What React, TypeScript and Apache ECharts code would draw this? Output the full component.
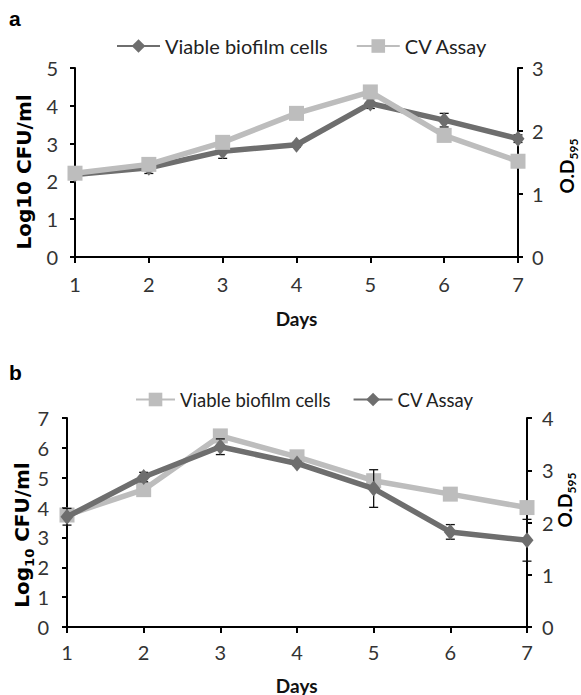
import React, { useEffect, useRef } from "react";
import * as echarts from "echarts";

// ---------- data ----------
const days = ["1", "2", "3", "4", "5", "6", "7"];

// Panel a
const aViable = [2.18, 2.36, 2.8, 2.97, 4.06, 3.62, 3.13]; // Log10 CFU/ml (left axis)
const aViableErr = [0.08, 0.15, 0.19, 0.06, 0.13, 0.18, 0.1];
const aCv = [1.33, 1.47, 1.82, 2.28, 2.62, 1.93, 1.52]; // O.D595 (right axis)

// Panel b
const bViable = [3.75, 4.6, 6.4, 5.7, 4.9, 4.45, 4.0]; // Log10 CFU/ml (left axis)
const bCv = [2.11, 2.87, 3.45, 3.13, 2.65, 1.82, 1.66]; // O.D595 (right axis)
const bCvErr = [0.16, 0.09, 0.15, 0.04, 0.36, 0.14, 0.4];

const aLeftRange = [0, 5];
const aRightRange = [0, 3];
const bLeftRange = [0, 7];
const bRightRange = [0, 4];

const DARK = "#6e6e6e";
const LIGHT = "#bdbdbd";
const CAL = "Lato, 'Noto Sans', sans-serif";
const VER = "'DejaVu Sans', Verdana, sans-serif";

function errorSeries(vals: number[], errs: number[], yAxisIndex: number, z: number) {
  return {
    type: "custom",
    yAxisIndex,
    silent: true,
    z,
    data: vals.map((v, i) => [i, v - errs[i], v + errs[i]]),
    encode: { x: 0, y: [1, 2] },
    renderItem: (params: any, api: any) => {
      const x = api.value(0);
      const lo = api.coord([x, api.value(1)]);
      const hi = api.coord([x, api.value(2)]);
      const w = 4.5;
      const style = { stroke: "#111", lineWidth: 1.3 };
      return {
        type: "group",
        children: [
          { type: "line", shape: { x1: lo[0], y1: lo[1], x2: hi[0], y2: hi[1] }, style },
          { type: "line", shape: { x1: lo[0] - w, y1: lo[1], x2: lo[0] + w, y2: lo[1] }, style },
          { type: "line", shape: { x1: hi[0] - w, y1: hi[1], x2: hi[0] + w, y2: hi[1] }, style },
        ],
      };
    },
  };
}

function lineSeries(name: string, data: number[], yAxisIndex: number, dark: boolean, z: number) {
  const color = dark ? DARK : LIGHT;
  return {
    type: "line",
    name,
    yAxisIndex,
    data,
    symbol: dark ? "diamond" : "rect",
    symbolSize: dark ? [13, 16] : 15,
    lineStyle: { color, width: 5.5 },
    itemStyle: { color },
    z,
  };
}

function axisY(range: number[], position: "left" | "right", margin: number) {
  return {
    type: "value",
    position,
    min: range[0],
    max: range[1],
    interval: 1,
    axisLine: { show: true, lineStyle: { color: "#000", width: 2 } },
    axisTick: { show: true, length: 5, lineStyle: { color: "#000", width: 2 } },
    axisLabel: { margin, fontFamily: CAL, fontSize: 20, color: "#333" },
    splitLine: { show: false },
  };
}

function buildOption(cfg: any) {
  const titleRich = {
    m: { fontFamily: VER, fontWeight: "bold", fontSize: 20, color: "#111", lineHeight: 22, verticalAlign: "top" },
    s: { fontFamily: VER, fontWeight: "bold", fontSize: 13, color: "#111", padding: [11, 0, 0, 0], verticalAlign: "bottom" },
    o: { fontFamily: CAL, fontWeight: "bold", fontSize: 19, color: "#111", lineHeight: 20, verticalAlign: "top" },
    os: { fontFamily: CAL, fontWeight: "bold", fontSize: 12, color: "#111", padding: [11, 0, 0, 0], verticalAlign: "bottom" },
  };
  return {
    animation: false,
    grid: cfg.grid,
    legend: {
      left: cfg.legend.left,
      top: cfg.legend.top,
      itemWidth: cfg.legend.itemWidth,
      itemHeight: 17,
      itemGap: cfg.legend.gap,
      selectedMode: false,
      data: cfg.legendNames,
      textStyle: { fontFamily: CAL, fontSize: cfg.legend.fontSize, color: "#222" },
    },
    xAxis: {
      type: "category",
      data: days,
      boundaryGap: false,
      axisLine: { show: true, lineStyle: { color: "#000", width: 2 } },
      axisTick: { show: true, length: 6, lineStyle: { color: "#000", width: 2 } },
      axisLabel: { margin: cfg.xMargin, fontFamily: CAL, fontSize: 20, color: "#333" },
      splitLine: { show: false },
    },
    yAxis: [axisY(cfg.leftRange, "left", cfg.leftMargin), axisY(cfg.rightRange, "right", cfg.rightMargin)],
    series: cfg.series,
    graphic: [
      {
        type: "text",
        left: 9,
        top: cfg.letterTop,
        style: { text: cfg.letter, fontFamily: "'Liberation Sans', Arial, sans-serif", fontWeight: "bold", fontSize: 21, fill: "#000" },
      },
      {
        type: "text",
        x: cfg.leftTitle[0],
        y: cfg.leftTitle[1],
        rotation: Math.PI / 2,
        style: { text: cfg.leftTitleText, rich: titleRich, align: "center", verticalAlign: "middle" },
      },
      {
        type: "text",
        x: cfg.rightTitle[0],
        y: cfg.rightTitle[1],
        rotation: Math.PI / 2,
        style: { text: "{o|O.D}{os|595}", rich: titleRich, align: "center", verticalAlign: "middle" },
      },
      {
        type: "text",
        x: cfg.days[0],
        y: cfg.days[1],
        style: { text: "Days", fontFamily: CAL, fontWeight: "bold", fontSize: 19, fill: "#111", align: "center", verticalAlign: "middle" },
      },
    ],
  };
}

const optionA = buildOption({
  grid: { left: 75, right: 63, top: 68, bottom: 78 },
  legend: { left: 111, top: 31, itemWidth: 43, gap: 28, fontSize: 20 },
  legendNames: ["Viable biofilm cells", "CV Assay"],
  xMargin: 17,
  leftMargin: 17,
  rightMargin: 14,
  leftRange: aLeftRange,
  rightRange: aRightRange,
  letter: "a",
  letterTop: 8,
  leftTitleText: "{m|Log10 CFU/ml}",
  leftTitle: [25, 172],
  rightTitle: [568, 166],
  days: [296.5, 318],
  series: [
    lineSeries("Viable biofilm cells", aViable, 0, true, 2),
    lineSeries("CV Assay", aCv, 1, false, 3),
    errorSeries(aViable, aViableErr, 0, 1.5),
  ],
});

const optionB = buildOption({
  grid: { left: 67, right: 54, top: 83, bottom: 68 },
  legend: { left: 130, top: 50, itemWidth: 39, gap: 22, fontSize: 18.5 },
  legendNames: ["Viable biofilm cells", "CV Assay"],
  xMargin: 15,
  leftMargin: 18,
  rightMargin: 15,
  leftRange: bLeftRange,
  rightRange: bRightRange,
  letter: "b",
  letterTop: 27,
  leftTitleText: "{m|Log}{s|10}{m| CFU/ml}",
  leftTitle: [24, 200],
  rightTitle: [566, 165],
  days: [296.7, 350],
  series: [
    lineSeries("Viable biofilm cells", bViable, 0, false, 2),
    lineSeries("CV Assay", bCv, 1, true, 3),
    errorSeries(bCv, bCvErr, 1, 2.5),
  ],
});

function Panel({ option, top, height }: { option: any; top: number; height: number }) {
  const ref = useRef<HTMLDivElement>(null);
  useEffect(() => {
    const chart = echarts.init(ref.current!, null, { renderer: "svg" });
    chart.setOption(option);
    return () => chart.dispose();
  }, [option]);
  return <div ref={ref} style={{ position: "absolute", left: 0, top, width: 581, height }} />;
}

export default function App() {
  return (
    <div style={{ position: "fixed", left: 0, top: 0, width: 581, height: 695, background: "#fff", overflow: "hidden" }}>
      <Panel option={optionA} top={0} height={335} />
      <Panel option={optionB} top={335} height={360} />
    </div>
  );
}
